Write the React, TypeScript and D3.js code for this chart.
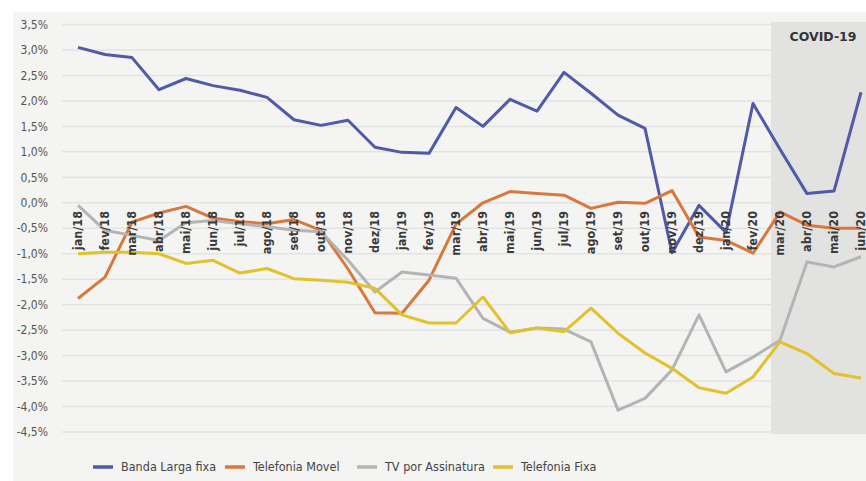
import { useEffect, useRef } from "react";
import * as d3 from "d3";

const MONTHS = [
  "jan/18", "fev/18", "mar/18", "abr/18", "mai/18", "jun/18", "jul/18", "ago/18", "set/18", "out/18",
  "nov/18", "dez/18", "jan/19", "fev/19", "mar/19", "abr/19", "mai/19", "jun/19", "jul/19", "ago/19",
  "set/19", "out/19", "nov/19", "dez/19", "jan/20", "fev/20", "mar/20", "abr/20", "mai/20", "jun/20",
];

const BANDA_LARGA = [
  3.05, 2.91, 2.85, 2.22, 2.44, 2.3, 2.21, 2.07, 1.63, 1.52,
  1.62, 1.09, 0.99, 0.97, 1.87, 1.5, 2.03, 1.8, 2.56, 2.15,
  1.72, 1.46, -0.98, -0.05, -0.58, 1.95, 1.05, 0.18, 0.23, 2.17,
];
const TELEFONIA_MOVEL = [
  -1.88, -1.46, -0.38, -0.2, -0.07, -0.3, -0.37, -0.41, -0.33, -0.54,
  -1.3, -2.16, -2.17, -1.52, -0.42, 0.0, 0.22, 0.18, 0.15, -0.11,
  0.01, -0.01, 0.24, -0.67, -0.74, -0.99, -0.18, -0.44, -0.5, -0.5,
];
const TV_ASSINATURA = [
  -0.05, -0.54, -0.64, -0.74, -0.39, -0.35, -0.41, -0.47, -0.54, -0.57,
  -1.13, -1.75, -1.36, -1.42, -1.48, -2.27, -2.54, -2.46, -2.48, -2.73,
  -4.07, -3.84, -3.28, -2.2, -3.32, -3.03, -2.7, -1.16, -1.26, -1.06,
];
const TELEFONIA_FIXA = [
  -1.0, -0.97, -0.97, -1.0, -1.19, -1.13, -1.38, -1.29, -1.49, -1.52,
  -1.56, -1.68, -2.2, -2.36, -2.36, -1.85, -2.55, -2.46, -2.53, -2.07,
  -2.56, -2.95, -3.25, -3.63, -3.74, -3.42, -2.73, -2.96, -3.35, -3.44,
];

const SERIES = [
  { name: "Banda Larga fixa", values: BANDA_LARGA, color: "#4f5aa8" },
  { name: "Telefonia Movel", values: TELEFONIA_MOVEL, color: "#d9783c" },
  { name: "TV por Assinatura", values: TV_ASSINATURA, color: "#b4b4b4" },
  { name: "Telefonia Fixa", values: TELEFONIA_FIXA, color: "#e2c22a" },
];

const Y_TICKS = [3.5, 3, 2.5, 2, 1.5, 1, 0.5, 0, -0.5, -1, -1.5, -2, -2.5, -3, -3.5, -4, -4.5];
const COVID_START = "mar/20";

export default function App() {
  const ref = useRef<SVGSVGElement>(null);

  useEffect(() => {
    if (!ref.current) return;
    const width = 866;
    const height = 481;
    const narrow = "'Liberation Sans Narrow', 'DejaVu Sans Condensed', sans-serif";

    const svg = d3.select(ref.current);
    svg.selectAll("*").remove();
    svg.attr("width", width).attr("height", height);

    svg.append("rect").attr("width", width).attr("height", height).attr("fill", "#ffffff");
    svg.append("rect").attr("x", 13).attr("y", 12).attr("width", width - 13).attr("height", height - 12).attr("fill", "#f4f4f3");

    const x = d3.scalePoint<string>().domain(MONTHS).range([78, 861]);
    const y = d3.scaleLinear().domain([-4.5, 3.5]).range([432, 24.5]);

    // covid shading
    const covidX = x(COVID_START)! - x.step() / 3;
    svg.append("rect")
      .attr("x", covidX)
      .attr("y", 22)
      .attr("width", width - covidX)
      .attr("height", 412)
      .attr("fill", "#e2e2e1");
    svg.append("text")
      .attr("x", 823)
      .attr("y", 41)
      .attr("text-anchor", "middle")
      .attr("font-family", "'DejaVu Sans', sans-serif")
      .attr("font-weight", "bold")
      .attr("font-size", 12.5)
      .attr("fill", "#333")
      .text("COVID-19");

    // grid + y labels
    svg.append("g")
      .selectAll("line")
      .data(Y_TICKS)
      .join("line")
      .attr("x1", 62)
      .attr("x2", width)
      .attr("y1", (d) => y(d))
      .attr("y2", (d) => y(d))
      .attr("stroke", "#e3e3e3")
      .attr("stroke-width", 1.5);

    const fmt = (d: number) => d3.format(".1f")(d).replace("−", "-").replace(".", ",") + "%";
    svg.append("g")
      .selectAll("text")
      .data(Y_TICKS)
      .join("text")
      .attr("x", 48)
      .attr("y", (d) => y(d))
      .attr("dy", "0.35em")
      .attr("text-anchor", "end")
      .attr("font-family", narrow)
      .attr("font-size", 12)
      .attr("fill", "#555")
      .text(fmt);

    // lines
    const line = d3
      .line<number>()
      .x((_, i) => x(MONTHS[i])!)
      .y((d) => y(d));

    svg.append("g")
      .selectAll("path")
      .data(SERIES)
      .join("path")
      .attr("d", (s) => line(s.values))
      .attr("fill", "none")
      .attr("stroke", (s) => s.color)
      .attr("stroke-width", 3)
      .attr("stroke-linejoin", "round");

    // x labels, drawn over the lines like the original
    svg.append("g")
      .selectAll("text")
      .data(MONTHS)
      .join("text")
      .attr("transform", (d) => `translate(${x(d)},211) rotate(-90)`)
      .attr("dy", "0.35em")
      .attr("text-anchor", "end")
      .attr("font-family", "'DejaVu Sans Condensed', 'DejaVu Sans', sans-serif")
      .attr("font-weight", "bold")
      .attr("font-size", 12.5)
      .attr("fill", "#3a3a3a")
      .text((d) => d);

    // legend
    const legendX = [93, 225, 357, 493];
    const legend = svg.append("g")
      .selectAll("g")
      .data(SERIES)
      .join("g")
      .attr("transform", (_, i) => `translate(${legendX[i]},467)`);
    legend.append("line")
      .attr("x1", 0)
      .attr("x2", 20)
      .attr("stroke", (s) => s.color)
      .attr("stroke-width", 3.5);
    legend.append("text")
      .attr("x", 28)
      .attr("dy", "0.35em")
      .attr("font-family", narrow)
      .attr("font-size", 12.5)
      .attr("fill", "#444")
      .text((s) => s.name);
  }, []);

  return <svg ref={ref} style={{ position: "absolute", left: 0, top: 0 }} />;
}
